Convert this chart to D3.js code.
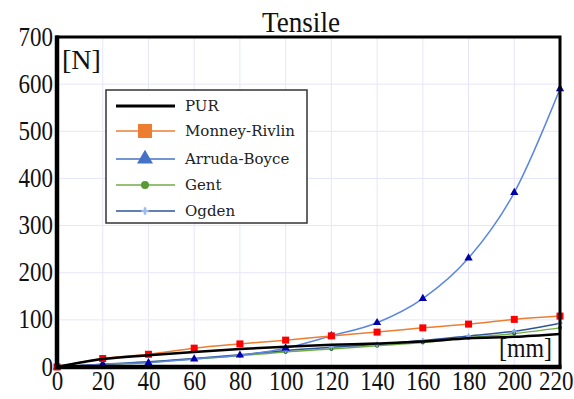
<!DOCTYPE html>
<html>
<head>
<meta charset="utf-8">
<script src="https://cdn.jsdelivr.net/npm/d3@7"></script>
<style>
  body { margin: 0; background: #fff; }
  text { font-family: "Liberation Serif", "DejaVu Serif", serif; }
</style>
</head>
<body>
<svg id="chart" width="574" height="399"></svg>
<script>
// displacement in mm (x axis)
var xValues = [0, 20, 40, 60, 80, 100, 120, 140, 160, 180, 200, 220];
// force in N for each series
var purValues = [0, 17, 25, 32, 38, 43, 47, 50, 54, 61, 64, 70];
var mooneyValues = [0, 18, 27, 40, 49, 57, 66, 74, 83, 91, 101, 108];
var arrudaValues = [0, 6, 9, 17, 25, 40, 66, 94, 145, 231, 370, 590];
var gentValues = [0, 5, 10, 17, 24, 32, 38, 45, 52, 62, 71, 83];
var ogdenValues = [0, 6, 11, 18, 26, 35, 42, 48, 56, 66, 76, 93];

var xTicks = [0, 20, 40, 60, 80, 100, 120, 140, 160, 180, 200, 220];
var yTicks = [0, 100, 200, 300, 400, 500, 600, 700];
var seriesNames = ["PUR", "Monney-Rivlin", "Arruda-Boyce", "Gent", "Ogden"];

var svg = d3.select("#chart");
var plotLeft = 57, plotRight = 560, plotTop = 37, plotBottom = 367;

var x = d3.scaleLinear().domain([0, 220]).range([plotLeft, plotRight]);
var y = d3.scaleLinear().domain([0, 700]).range([plotBottom, plotTop]);

// grid
svg.append("g").selectAll("line").data(xTicks).enter().append("line")
    .attr("x1", function (d) { return x(d); }).attr("x2", function (d) { return x(d); })
    .attr("y1", plotTop).attr("y2", plotBottom)
    .style("stroke", "#e6e6fa").style("stroke-width", 1);
svg.append("g").selectAll("line").data(yTicks).enter().append("line")
    .attr("x1", plotLeft).attr("x2", plotRight)
    .attr("y1", function (d) { return y(d); }).attr("y2", function (d) { return y(d); })
    .style("stroke", "#e6e6fa").style("stroke-width", 1);

// axes (labels only, the frame is drawn below)
var xAxis = svg.append("g").attr("transform", "translate(0," + plotBottom + ")")
    .call(d3.axisBottom(x).tickValues(xTicks).tickSize(0).tickPadding(4).tickFormat(d3.format("d")));
var yAxis = svg.append("g").attr("transform", "translate(" + plotLeft + ",0)")
    .call(d3.axisLeft(y).tickValues(yTicks).tickSize(0).tickPadding(4).tickFormat(d3.format("d")));
[xAxis, yAxis].forEach(function (a) {
    a.select(".domain").remove();
    a.selectAll("text").style("font-family", "Liberation Serif").style("font-size", "27px")
        .style("fill", "#111")
        .attr("lengthAdjust", "spacingAndGlyphs")
        .attr("textLength", function (d) { return String(d).length * 11.5; });
});
yAxis.selectAll("text").attr("dy", "0.3em");
// last x label sits flush with the page edge, as in the original
xAxis.selectAll("text").filter(function (d) { return d === 220; })
    .attr("text-anchor", "end").attr("x", 573 - plotRight);

var line = d3.line()
    .x(function (d) { return x(d[0]); })
    .y(function (d) { return y(d[1]); })
    .curve(d3.curveMonotoneX);

function pairs(vals) {
    return xValues.map(function (v, i) { return [v, vals[i]]; });
}

var plot = svg.append("g");

// Gent
plot.append("path").datum(pairs(gentValues)).attr("d", line)
    .style("fill", "none").style("stroke", "#70ad47").style("stroke-width", 1.5);
plot.append("g").selectAll("circle").data(pairs(gentValues)).enter().append("circle")
    .attr("cx", function (d) { return x(d[0]); }).attr("cy", function (d) { return y(d[1]); })
    .attr("r", 2).style("fill", "#1e6b1e");

// Ogden
plot.append("path").datum(pairs(ogdenValues)).attr("d", line)
    .style("fill", "none").style("stroke", "#2e5597").style("stroke-width", 1.5);
plot.append("g").selectAll("path").data(pairs(ogdenValues)).enter().append("path")
    .attr("transform", function (d) { return "translate(" + x(d[0]) + "," + y(d[1]) + ")"; })
    .attr("d", d3.symbol().type(d3.symbolCross).size(14))
    .style("fill", "#7fa7e8");

// Arruda-Boyce
plot.append("path").datum(pairs(arrudaValues)).attr("d", line)
    .style("fill", "none").style("stroke", "#5b87e0").style("stroke-width", 1.5);
plot.append("g").selectAll("path").data(pairs(arrudaValues)).enter().append("path")
    .attr("transform", function (d) { return "translate(" + x(d[0]) + "," + y(d[1]) + ")"; })
    .attr("d", d3.symbol().type(d3.symbolTriangle).size(30))
    .style("fill", "#0000a8");

// Mooney-Rivlin
plot.append("path").datum(pairs(mooneyValues)).attr("d", line)
    .style("fill", "none").style("stroke", "#ed7d31").style("stroke-width", 1.5);
plot.append("g").selectAll("rect").data(pairs(mooneyValues)).enter().append("rect")
    .attr("x", function (d) { return x(d[0]) - 3.5; }).attr("y", function (d) { return y(d[1]) - 3.5; })
    .attr("width", 7).attr("height", 7).style("fill", "#ff0000");

// PUR
plot.append("path").datum(pairs(purValues)).attr("d", line)
    .style("fill", "none").style("stroke", "#000").style("stroke-width", 2.5);

// frame
svg.append("rect").attr("x", plotLeft).attr("y", plotTop)
    .attr("width", plotRight - plotLeft).attr("height", plotBottom - plotTop)
    .style("fill", "none").style("stroke", "#000").style("stroke-width", 3);
svg.append("line").attr("x1", plotLeft).attr("x2", plotLeft).attr("y1", plotTop - 1.5).attr("y2", plotBottom + 2)
    .style("stroke", "#000").style("stroke-width", 4.5);
svg.append("line").attr("x1", plotLeft - 2).attr("x2", plotRight + 1.5).attr("y1", plotBottom).attr("y2", plotBottom)
    .style("stroke", "#000").style("stroke-width", 4.5);

// title and unit labels
svg.append("text").attr("x", 301).attr("y", 32).attr("text-anchor", "middle")
    .style("font-size", "29px").style("fill", "#111")
    .attr("lengthAdjust", "spacingAndGlyphs").attr("textLength", 78).text("Tensile");
svg.append("text").attr("x", 62).attr("y", 69)
    .style("font-size", "28px").style("fill", "#111").text("[N]");
svg.append("text").attr("x", 499).attr("y", 357)
    .style("font-size", "28px").style("fill", "#111")
    .attr("lengthAdjust", "spacingAndGlyphs").attr("textLength", 53).text("[mm]");

// legend
var lg = svg.append("g");
lg.append("rect").attr("x", 106).attr("y", 90).attr("width", 201).attr("height", 133)
    .style("fill", "#fff").style("stroke", "#333").style("stroke-width", 1.5);
var legendY = [106, 131, 159, 185, 211];
var legendColor = ["#000", "#ed7d31", "#4472c4", "#70ad47", "#2e5597"];
seriesNames.forEach(function (name, i) {
    var ly = legendY[i];
    lg.append("line").attr("x1", 116).attr("x2", 175).attr("y1", ly).attr("y2", ly)
        .style("stroke", legendColor[i]).style("stroke-width", i === 0 ? 3 : 1.5);
    lg.append("text").attr("x", 185).attr("y", ly + 5)
        .style("font-family", "DejaVu Serif").style("font-size", "15px").style("fill", "#222").text(name);
});
lg.append("rect").attr("x", 138).attr("y", 124).attr("width", 14).attr("height", 14).style("fill", "#ed7d31");
lg.append("path").attr("transform", "translate(145,159)")
    .attr("d", d3.symbol().type(d3.symbolTriangle).size(110)).style("fill", "#4472c4");
lg.append("circle").attr("cx", 145).attr("cy", 185).attr("r", 4).style("fill", "#5a9a35");
lg.append("path").attr("transform", "translate(145,211)")
    .attr("d", d3.symbol().type(d3.symbolCross).size(30)).style("fill", "#9dbcea");
</script>
</body>
</html>
